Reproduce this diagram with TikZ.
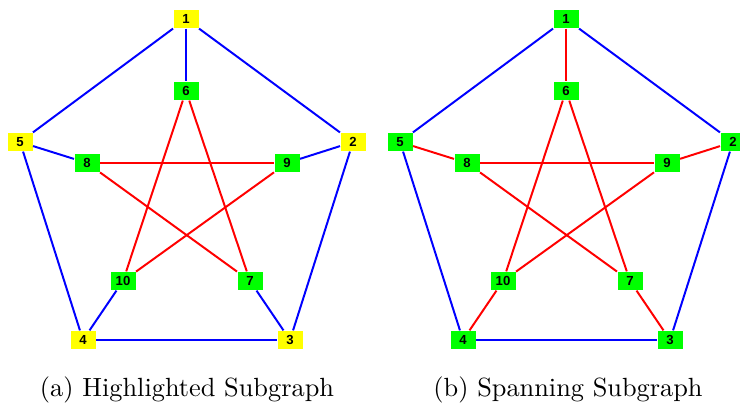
\documentclass[tikz,border=0pt]{standalone}
\usepackage{fontspec}
\setsansfont{Liberation Sans}
\usepackage{tikz}
\usetikzlibrary{positioning}
\usepackage{xcolor}
\definecolor{vyellow}{RGB}{255,255,0}
\definecolor{vgreen}{RGB}{0,255,0}
\definecolor{eblue}{RGB}{0,0,255}
\definecolor{ered}{RGB}{255,0,0}

\begin{document}
\begin{tikzpicture}[
    x=0.38pt, y=0.38pt,
    vert/.style={minimum width=9.5pt, minimum height=6.9pt, inner sep=0.5pt,
                 font=\sffamily\bfseries\fontsize{5}{5}\selectfont},
    outer/.style={vert, fill=vyellow},
    inner/.style={vert, fill=vgreen},
    blueedge/.style={eblue, line width=0.75pt},
    rededge/.style={ered, line width=0.75pt}
  ]
    \useasboundingbox (0,0) rectangle (740,407);

    % (a) highlighted subgraph
    \node[outer] (a1) at (186,388) {1};
    \node[outer] (a2) at (353,265) {2};
    \node[outer] (a3) at (290,67) {3};
    \node[outer] (a4) at (83,67) {4};
    \node[outer] (a5) at (20,265) {5};
    \node[inner] (a6) at (186,316) {6};
    \node[inner] (a7) at (250,126) {7};
    \node[inner] (a8) at (87,244) {8};
    \node[inner] (a9) at (287,244) {9};
    \node[inner] (a10) at (123,126) {10};

    \draw[blueedge] (a1) -- (a2) -- (a3) -- (a4) -- (a5) -- (a1);
    \draw[blueedge] (a1) -- (a6);
    \draw[blueedge] (a2) -- (a9);
    \draw[blueedge] (a3) -- (a7);
    \draw[blueedge] (a4) -- (a10);
    \draw[blueedge] (a5) -- (a8);
    \draw[rededge] (a6) -- (a10);
    \draw[rededge] (a6) -- (a7);
    \draw[rededge] (a8) -- (a9);
    \draw[rededge] (a8) -- (a7);
    \draw[rededge] (a9) -- (a10);

    \node (capa) at (187,17) {(a) Highlighted Subgraph};

    % (b) spanning subgraph
    \node[inner] (b1) at (566,388) {1};
    \node[inner] (b2) at (733,265) {2};
    \node[inner] (b3) at (670,67) {3};
    \node[inner] (b4) at (463,67) {4};
    \node[inner] (b5) at (400,265) {5};
    \node[inner] (b6) at (566,316) {6};
    \node[inner] (b7) at (630,126) {7};
    \node[inner] (b8) at (467,244) {8};
    \node[inner] (b9) at (667,244) {9};
    \node[inner] (b10) at (503,126) {10};

    \draw[blueedge] (b1) -- (b2) -- (b3) -- (b4) -- (b5) -- (b1);
    \draw[rededge] (b1) -- (b6);
    \draw[rededge] (b2) -- (b9);
    \draw[rededge] (b3) -- (b7);
    \draw[rededge] (b4) -- (b10);
    \draw[rededge] (b5) -- (b8);
    \draw[rededge] (b6) -- (b10);
    \draw[rededge] (b6) -- (b7);
    \draw[rededge] (b8) -- (b9);
    \draw[rededge] (b8) -- (b7);
    \draw[rededge] (b9) -- (b10);

    \node (capb) at (568,17) {(b) Spanning Subgraph};
  \end{tikzpicture}
\end{document}
